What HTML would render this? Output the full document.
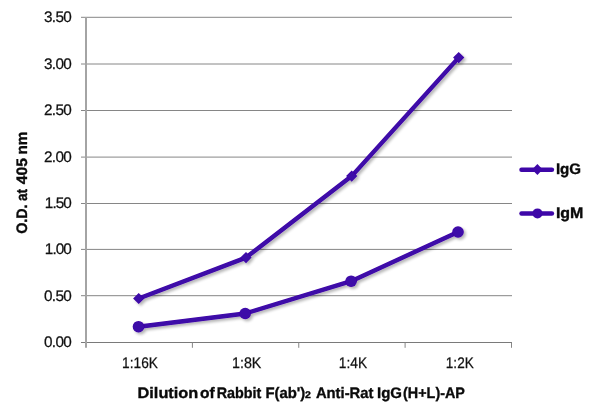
<!DOCTYPE html>
<html><head><meta charset="utf-8">
<style>
html,body{margin:0;padding:0;background:#fff;}
svg{display:block;font-family:"Liberation Sans",sans-serif;text-rendering:geometricPrecision;}
</style></head><body>
<svg width="600" height="417" viewBox="0 0 600 417">
<defs>
<filter id="sh" x="-10%" y="-10%" width="120%" height="120%">
<feGaussianBlur in="SourceAlpha" stdDeviation="1.4" result="b"/>
<feOffset in="b" dx="2.2" dy="2.4" result="o"/>
<feComponentTransfer in="o" result="s"><feFuncA type="linear" slope="0.3"/></feComponentTransfer>
<feMerge><feMergeNode in="s"/><feMergeNode in="SourceGraphic"/></feMerge>
</filter>
</defs>
<rect width="600" height="417" fill="#fff"/>
<g stroke="#868686" stroke-width="1" fill="none" shape-rendering="auto">
<path d="M81 17.3H512M81 64H512M81 110.5H512M81 157.1H512M81 203.5H512M81 249.4H512M81 295.7H512"/>
<path d="M81 342.5H512" stroke="#7a7a7a"/>
<path d="M86 17V347.8" stroke-width="2" stroke="#a4a4a4"/>
<path d="M192.4 342.5V347.8M298.75 342.5V347.8M405.1 342.5V347.8M511.5 342.5V347.8"/>
</g>
<g filter="url(#sh)" fill="#3e07a8" stroke="none">
<polyline points="138.7,298.5 246.0,257.6 351.7,176.1 458.7,57.6" fill="none" stroke="#3e07a8" stroke-width="4.4" stroke-linejoin="round"/>
<polyline points="138.5,326.7 245.2,313.5 351.1,281.2 458.0,232.0" fill="none" stroke="#3e07a8" stroke-width="4.4" stroke-linejoin="round"/>
<path d="M138.7 292.9l5.6 5.6l-5.6 5.6l-5.6 -5.6z"/>
<path d="M246.0 252.0l5.6 5.6l-5.6 5.6l-5.6 -5.6z"/>
<path d="M351.7 170.5l5.6 5.6l-5.6 5.6l-5.6 -5.6z"/>
<path d="M458.7 52.0l5.6 5.6l-5.6 5.6l-5.6 -5.6z"/>
<circle cx="138.5" cy="326.7" r="5.8"/>
<circle cx="245.2" cy="313.5" r="5.8"/>
<circle cx="351.1" cy="281.2" r="5.8"/>
<circle cx="458.0" cy="232.0" r="5.8"/>
</g>
<g fill="#3e07a8">
<path d="M521.5 169.8H551.9" stroke="#3e07a8" stroke-width="4.5" stroke-linecap="round"/>
<path d="M537.4 164l5.3 5.5l-5.3 5.5l-5.3-5.5z"/>
<path d="M521.5 213.5H551.9" stroke="#3e07a8" stroke-width="4.5" stroke-linecap="round"/>
<circle cx="537.5" cy="213.4" r="5"/>
</g>
<g font-size="15.3" fill="#111" stroke="#111" stroke-width="0.25" text-anchor="end" opacity="0.999">
<text x="71.8" y="22.2" textLength="27.9" lengthAdjust="spacing">3.50</text>
<text x="71.8" y="68.9" textLength="27.9" lengthAdjust="spacing">3.00</text>
<text x="71.8" y="115.4" textLength="27.9" lengthAdjust="spacing">2.50</text>
<text x="71.8" y="162.0" textLength="27.9" lengthAdjust="spacing">2.00</text>
<text x="71.8" y="208.4" textLength="27.0" lengthAdjust="spacing">1.50</text>
<text x="71.8" y="254.3" textLength="27.0" lengthAdjust="spacing">1.00</text>
<text x="71.8" y="300.6" textLength="27.9" lengthAdjust="spacing">0.50</text>
<text x="71.8" y="347.4" textLength="27.9" lengthAdjust="spacing">0.00</text>
</g>
<g font-size="15.3" fill="#111" stroke="#111" stroke-width="0.25" text-anchor="middle" opacity="0.999">
<text x="140" y="368" textLength="35.8" lengthAdjust="spacingAndGlyphs">1:16K</text>
<text x="246.7" y="368" textLength="29.4" lengthAdjust="spacingAndGlyphs">1:8K</text>
<text x="353" y="368" textLength="28.3" lengthAdjust="spacingAndGlyphs">1:4K</text>
<text x="459.8" y="368" textLength="28" lengthAdjust="spacingAndGlyphs">1:2K</text>
</g>
<g font-size="15.2" font-weight="bold" fill="#0a0a0a" stroke="#0a0a0a" stroke-width="0.35" opacity="0.999">
<text x="555.9" y="174" textLength="25.2" lengthAdjust="spacingAndGlyphs">IgG</text>
<text x="555.9" y="218.1" textLength="27.5" lengthAdjust="spacingAndGlyphs">IgM</text>
<text transform="translate(27.4 233.8) rotate(-90)" textLength="29.3" lengthAdjust="spacingAndGlyphs">O.D.</text>
<text transform="translate(27.4 201.1) rotate(-90)" textLength="12.2" lengthAdjust="spacingAndGlyphs">at</text>
<text transform="translate(27.4 184.2) rotate(-90)" textLength="26.2" lengthAdjust="spacingAndGlyphs">405</text>
<text transform="translate(27.4 154.5) rotate(-90)" textLength="23" lengthAdjust="spacingAndGlyphs">nm</text>
<text x="137.5" y="397.6" textLength="60.8" lengthAdjust="spacingAndGlyphs">Dilution</text>
<text x="200.1" y="397.6" textLength="14.7" lengthAdjust="spacingAndGlyphs">of</text>
<text x="216.7" y="397.6" textLength="44.6" lengthAdjust="spacingAndGlyphs">Rabbit</text>
<text x="265.4" y="397.6" textLength="39.9" lengthAdjust="spacingAndGlyphs">F(ab')</text>
<text x="305" y="397.6" font-size="9.6" textLength="5.9" lengthAdjust="spacingAndGlyphs">2</text>
<text x="315.9" y="397.6" textLength="57.5" lengthAdjust="spacingAndGlyphs">Anti-Rat</text>
<text x="377" y="397.6" textLength="25" lengthAdjust="spacingAndGlyphs">IgG</text>
<text x="403.1" y="397.6" textLength="61.8" lengthAdjust="spacingAndGlyphs">(H+L)-AP</text>
</g>
</svg>
</body></html>
